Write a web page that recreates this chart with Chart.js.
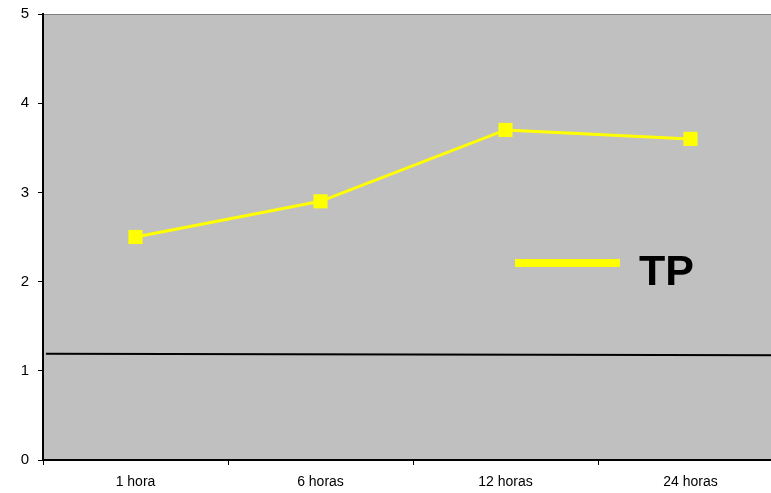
<!DOCTYPE html>
<html>
<head>
<meta charset="utf-8">
<script src="https://cdn.jsdelivr.net/npm/chart.js@4/dist/chart.umd.min.js"></script>
<style>
  html, body { margin: 0; padding: 0; background: #fff; overflow: hidden; }
  #wrap { width: 771px; height: 493px; overflow: hidden; position: relative; }
  #box { width: 800px; height: 493px; position: absolute; left: 0; top: 0; }
</style>
</head>
<body>
<div id="wrap"><div id="box"><canvas id="c"></canvas></div></div>
<script>
// Sampling times and mean TP values
const categories = ['1 hora', '6 horas', '12 horas', '24 horas'];
const tpValues = [2.5, 2.9, 3.7, 3.6];
const seriesName = 'TP';

// Baseline reference line (x runs 0..4 across the category band)
const baselineX = [0.016, 4];
const baselineY = [1.19, 1.175];

const yTicks = [0, 1, 2, 3, 4, 5];

const plotBg = {
  id: 'plotBg',
  beforeDraw(chart) {
    const { ctx, chartArea: a } = chart;
    ctx.save();
    ctx.fillStyle = '#c0c0c0';
    ctx.fillRect(a.left, a.top, a.right - a.left, a.bottom - a.top);
    ctx.strokeStyle = '#808080';
    ctx.lineWidth = 1;
    ctx.beginPath();
    ctx.moveTo(a.left, a.top + 0.5);
    ctx.lineTo(a.right, a.top + 0.5);
    ctx.stroke();
    ctx.restore();
  }
};

// Legend drawn inside the plot area
const innerLegend = {
  id: 'innerLegend',
  afterDatasetsDraw(chart) {
    const ds = chart.data.datasets[0];
    const { ctx } = chart;
    ctx.save();
    ctx.strokeStyle = ds.borderColor;
    ctx.lineWidth = 8;
    ctx.beginPath();
    ctx.moveTo(515, 263);
    ctx.lineTo(620, 263);
    ctx.stroke();
    ctx.fillStyle = '#000';
    ctx.font = 'bold 43px "Liberation Sans", Arial, sans-serif';
    ctx.textBaseline = 'alphabetic';
    ctx.textAlign = 'left';
    ctx.fillText(ds.label, 639, 285);
    ctx.restore();
  }
};

new Chart(document.getElementById('c'), {
  type: 'line',
  data: {
    labels: categories,
    datasets: [
      {
        label: seriesName,
        data: tpValues,
        borderColor: '#ffff00',
        backgroundColor: '#ffff00',
        borderWidth: 3,
        pointStyle: 'rect',
        pointRadius: 10,
        pointHoverRadius: 10,
        pointBorderWidth: 0,
        tension: 0,
        xAxisID: 'x',
        yAxisID: 'y'
      },
      {
        label: 'base',
        data: baselineX.map((x, i) => ({ x, y: baselineY[i] })),
        borderColor: '#000',
        borderWidth: 2,
        pointRadius: 0,
        tension: 0,
        xAxisID: 'xl',
        yAxisID: 'y'
      }
    ]
  },
  options: {
    responsive: true,
    maintainAspectRatio: false,
    animation: false,
    layout: { padding: { top: 14, right: 17, left: 0, bottom: 0 } },
    plugins: {
      legend: { display: false },
      tooltip: { enabled: false }
    },
    scales: {
      x: {
        type: 'category',
        offset: true,
        grid: {
          offset: true,
          drawOnChartArea: false,
          drawTicks: true,
          tickLength: 5,
          color: '#000',
          lineWidth: 1
        },
        border: { display: true, color: '#000', width: 2 },
        ticks: {
          color: '#000',
          padding: 9,
          maxRotation: 0,
          font: { family: '"Liberation Sans", Arial, sans-serif', size: 14 }
        },
        afterFit(s) { s.height = 33; s.paddingLeft = 0; s.paddingRight = 0; }
      },
      xl: {
        type: 'linear',
        display: false,
        min: 0,
        max: 4
      },
      y: {
        type: 'linear',
        min: 0,
        max: 5,
        afterBuildTicks(s) { s.ticks = yTicks.map(v => ({ value: v })); },
        grid: {
          drawOnChartArea: false,
          drawTicks: true,
          tickLength: 5,
          color: '#000',
          lineWidth: 1
        },
        border: { display: true, color: '#000', width: 2 },
        ticks: {
          color: '#000',
          padding: 9,
          font: { family: '"Liberation Sans", Arial, sans-serif', size: 15 }
        },
        afterFit(s) { s.width = 43; s.paddingTop = 0; s.paddingBottom = 0; }
      }
    }
  },
  plugins: [plotBg, innerLegend]
});
</script>
</body>
</html>
